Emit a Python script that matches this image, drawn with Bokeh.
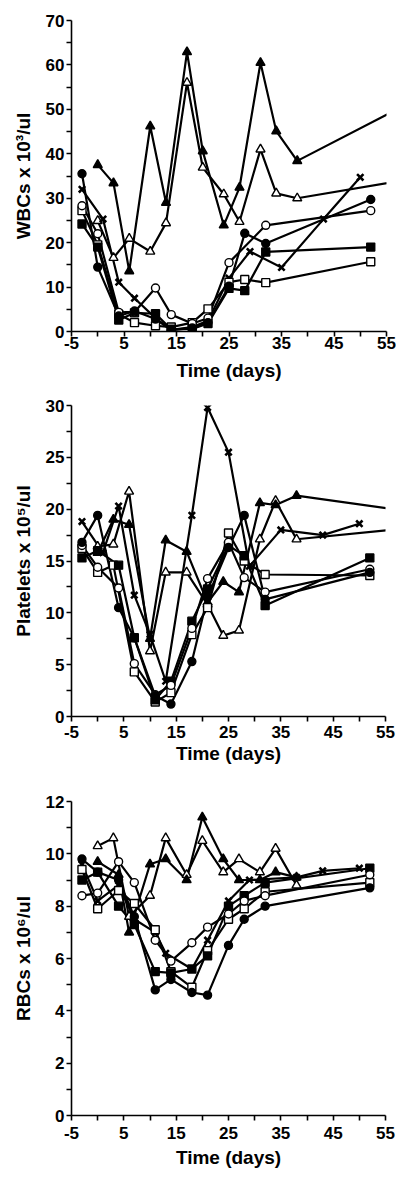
from bokeh.plotting import figure
from bokeh.layouts import column
from bokeh.models import FixedTicker, Range1d
from bokeh.embed import file_html
from bokeh.resources import INLINE

# ---------------- data: WBCs (x 10^3/ul) ----------------
wbc_fcirc_d = [-3, 0, 4, 7, 11, 14, 18, 21, 25, 28, 32, 52]
wbc_fcirc = [35.5, 14.5, 3.5, 4.6, 2.8, 0.3, 0.8, 2.0, 10.2, 22.1, 19.8, 29.7]
wbc_ocirc_d = [-3, 0, 4, 7, 11, 14, 18, 21, 25, 32, 52]
wbc_ocirc = [28.3, 22.0, 4.3, 4.4, 9.8, 3.8, 1.8, 3.0, 15.5, 23.9, 27.2]
wbc_fsq_d = [-3, 0, 4, 7, 11, 14, 18, 21, 25, 28, 32, 52]
wbc_fsq = [24.2, 19.0, 2.6, 4.2, 4.0, 0.5, 0.6, 1.8, 9.7, 9.2, 17.9, 19.0]
wbc_osq_d = [-3, 0, 4, 7, 11, 14, 18, 21, 25, 28, 32, 52]
wbc_osq = [27.2, 19.5, 3.9, 2.0, 1.3, 1.0, 2.0, 5.1, 11.1, 11.7, 11.0, 15.7]
wbc_x_d = [-3, 1, 4, 7, 11, 14, 18, 21, 25, 29, 35, 43, 50]
wbc_x = [32.0, 25.3, 11.1, 7.5, 3.0, 0.4, 1.0, 2.4, 12.0, 18.0, 14.4, 25.3, 34.7]
wbc_ftri_d = [0, 3, 6, 10, 13, 17, 20, 24, 27, 31, 34, 38, 58]
wbc_ftri = [37.5, 33.4, 13.6, 46.2, 29.0, 62.9, 40.6, 23.9, 32.4, 60.5, 45.1, 38.4, 50.6]
wbc_otri_d = [0, 3, 6, 10, 13, 17, 20, 24, 27, 31, 34, 38, 58]
wbc_otri = [24.9, 16.6, 20.9, 18.0, 24.4, 56.0, 36.9, 30.9, 24.7, 41.0, 31.1, 30.0, 34.0]

# ---------------- data: Platelets (x 10^5/ul) ----------------
plt_fcirc_d = [-3, 0, 4, 7, 11, 14, 18, 21, 25, 28, 32, 52]
plt_fcirc = [16.8, 19.4, 10.5, 7.6, 2.0, 1.2, 5.3, 11.5, 16.3, 19.4, 11.3, 13.9]
plt_ocirc_d = [-3, 0, 4, 7, 11, 14, 18, 21, 25, 28, 32, 52]
plt_ocirc = [16.5, 14.4, 12.4, 5.1, 2.1, 3.0, 8.5, 13.3, 16.8, 13.4, 12.0, 14.2]
plt_fsq_d = [-3, 0, 4, 7, 11, 14, 18, 21, 25, 28, 32, 52]
plt_fsq = [15.3, 16.0, 14.6, 7.6, 1.6, 3.4, 9.2, 12.3, 16.5, 15.5, 10.7, 15.3]
plt_osq_d = [-3, 0, 3, 7, 11, 14, 18, 21, 25, 28, 32, 52]
plt_osq = [16.2, 13.9, 14.6, 4.3, 1.4, 2.3, 7.9, 10.5, 17.7, 15.0, 13.7, 13.6]
plt_x_d = [-3, 1, 4, 7, 10, 13, 18, 21, 25, 29, 35, 43, 50]
plt_x = [18.8, 15.8, 20.3, 11.7, 7.9, 3.4, 19.4, 29.8, 25.5, 14.5, 18.0, 17.5, 18.6]
plt_ftri_d = [0, 3, 6, 10, 13, 17, 21, 24, 27, 31, 34, 38, 58]
plt_ftri = [15.8, 19.0, 18.5, 7.5, 17.0, 15.9, 11.0, 13.0, 12.0, 20.6, 20.4, 21.3, 19.9]
plt_otri_d = [0, 3, 6, 10, 13, 17, 21, 24, 27, 31, 34, 38, 58]
plt_otri = [16.4, 16.6, 21.7, 6.3, 13.9, 13.9, 10.8, 7.8, 8.3, 17.1, 20.8, 17.1, 18.1]

# ---------------- data: RBCs (x 10^6/ul) ----------------
rbc_fcirc_d = [-3, 0, 4, 7, 11, 14, 18, 21, 25, 28, 32, 52]
rbc_fcirc = [9.8, 9.3, 9.0, 7.6, 4.8, 5.2, 4.7, 4.6, 6.5, 7.5, 8.0, 8.7]
rbc_ocirc_d = [-3, 0, 4, 7, 11, 14, 18, 21, 25, 28, 32, 52]
rbc_ocirc = [8.4, 8.5, 9.7, 8.9, 6.7, 5.9, 6.6, 7.2, 7.7, 8.2, 8.4, 9.2]
rbc_fsq_d = [-3, 0, 4, 7, 11, 14, 18, 21, 25, 28, 32, 52]
rbc_fsq = [9.0, 9.3, 8.0, 7.3, 5.5, 5.45, 5.6, 6.1, 8.0, 8.4, 8.9, 9.45]
rbc_osq_d = [-3, 0, 4, 7, 11, 14, 18, 21, 25, 28, 32, 52]
rbc_osq = [9.4, 7.9, 8.6, 8.1, 7.1, 5.5, 4.9, 6.3, 7.5, 7.9, 8.55, 8.9]
rbc_x_d = [-3, 0, 4, 7, 11, 13, 18, 21, 25, 29, 38, 43, 50]
rbc_x = [9.6, 8.2, 8.8, 7.5, 7.0, 6.2, 5.6, 6.7, 8.2, 9.0, 9.1, 9.35, 9.45]
rbc_ftri_d = [0, 4, 6, 10, 13, 17, 20, 24, 27, 31, 34, 38]
rbc_ftri = [9.7, 9.2, 7.0, 9.6, 9.8, 9.0, 11.4, 9.8, 9.0, 9.0, 9.3, 9.1]
rbc_otri_d = [0, 3, 6, 10, 13, 17, 20, 24, 27, 31, 34, 38]
rbc_otri = [10.3, 10.6, 7.6, 8.4, 10.6, 9.2, 10.5, 9.3, 9.8, 9.3, 10.2, 8.8]

x_ticks = [-5, 5, 15, 25, 35, 45, 55]
x_minor = [0, 10, 20, 30, 40, 50]

FONT = "Liberation Sans"

STYLES = {
    "fcirc": dict(marker="circle", size=8, fill_color="black"),
    "ocirc": dict(marker="circle", size=8, fill_color="white"),
    "fsq": dict(marker="square", size=8, fill_color="black"),
    "osq": dict(marker="square", size=8, fill_color="white"),
    "x": dict(marker="x", size=9, fill_color="black"),
    "ftri": dict(marker="triangle", size=9, fill_color="black"),
    "otri": dict(marker="triangle", size=9, fill_color="white"),
}


def make_panel(series, ylabel, ymax, ymajor, fw, fh, bl, br, bt, bb, xstand, titlestand):
    p = figure(frame_width=fw, frame_height=fh,
               x_range=Range1d(-5, 55), y_range=Range1d(0, ymax),
               output_backend="svg", toolbar_location=None,
               min_border_left=bl, min_border_right=br,
               min_border_top=bt, min_border_bottom=bb,
               background_fill_color="white", border_fill_color="white")
    p.xgrid.visible = False
    p.ygrid.visible = False
    p.outline_line_color = None

    yt = list(range(0, ymax + 1, ymajor))
    ym = [v + ymajor / 2 for v in yt[:-1]]
    p.xaxis.ticker = FixedTicker(ticks=x_ticks, minor_ticks=x_minor)
    p.yaxis.ticker = FixedTicker(ticks=yt, minor_ticks=ym)
    p.xaxis.major_label_overrides = {t: str(t) for t in x_ticks}

    for ax in (p.xaxis[0], p.yaxis[0]):
        ax.axis_line_width = 1.6
        ax.axis_line_color = "black"
        ax.major_tick_line_width = 1.6
        ax.minor_tick_line_width = 1.6
        ax.major_tick_line_color = "black"
        ax.minor_tick_line_color = "black"
        ax.major_tick_in = 0
        ax.minor_tick_in = 0
        ax.major_tick_out = 5
        ax.minor_tick_out = 5
        ax.major_label_text_font = FONT
        ax.major_label_text_font_style = "bold"
        ax.major_label_text_font_size = "17px"
        ax.major_label_text_color = "black"
        ax.axis_label_text_font = FONT
        ax.axis_label_text_font_style = "bold"
        ax.axis_label_text_font_size = "19px"
        ax.axis_label_text_color = "black"

    p.xaxis.axis_label = "Time (days)"
    p.xaxis.major_label_standoff = xstand
    p.xaxis.axis_label_standoff = titlestand
    p.yaxis.axis_label = ylabel
    p.yaxis.major_label_standoff = 2
    p.yaxis.axis_label_standoff = 9

    for key, d, v in series:
        p.line(d, v, line_color="black", line_width=2.2)
    for key, d, v in series:
        st = STYLES[key]
        lw = 2.6 if key == "x" else 1.4
        p.scatter(d, v, marker=st["marker"], size=st["size"],
                  fill_color=st["fill_color"], line_color="black", line_width=lw)
    return p


p1 = make_panel([
    ("otri", wbc_otri_d, wbc_otri),
    ("ftri", wbc_ftri_d, wbc_ftri),
    ("x", wbc_x_d, wbc_x),
    ("osq", wbc_osq_d, wbc_osq),
    ("fsq", wbc_fsq_d, wbc_fsq),
    ("ocirc", wbc_ocirc_d, wbc_ocirc),
    ("fcirc", wbc_fcirc_d, wbc_fcirc),
], "WBCs x 10\u00b3/ul", 70, 10, 315, 311, 68, 13, 20, 52, 0, 8)

p2 = make_panel([
    ("otri", plt_otri_d, plt_otri),
    ("ftri", plt_ftri_d, plt_ftri),
    ("x", plt_x_d, plt_x),
    ("osq", plt_osq_d, plt_osq),
    ("fsq", plt_fsq_d, plt_fsq),
    ("ocirc", plt_ocirc_d, plt_ocirc),
    ("fcirc", plt_fcirc_d, plt_fcirc),
], "Platelets x 10\u2075/ul", 30, 5, 314, 311, 71, 11, 22, 52, 4, 2)

p3 = make_panel([
    ("otri", rbc_otri_d, rbc_otri),
    ("ftri", rbc_ftri_d, rbc_ftri),
    ("x", rbc_x_d, rbc_x),
    ("osq", rbc_osq_d, rbc_osq),
    ("fsq", rbc_fsq_d, rbc_fsq),
    ("ocirc", rbc_ocirc_d, rbc_ocirc),
    ("fcirc", rbc_fcirc_d, rbc_fcirc),
], "RBCs x 10\u2076/ul", 12, 2, 314, 314, 68, 14, 33, 50, 6, 5)

layout = column(p1, p2, p3, spacing=0)
open("out.html", "w").write(file_html(layout, INLINE))
